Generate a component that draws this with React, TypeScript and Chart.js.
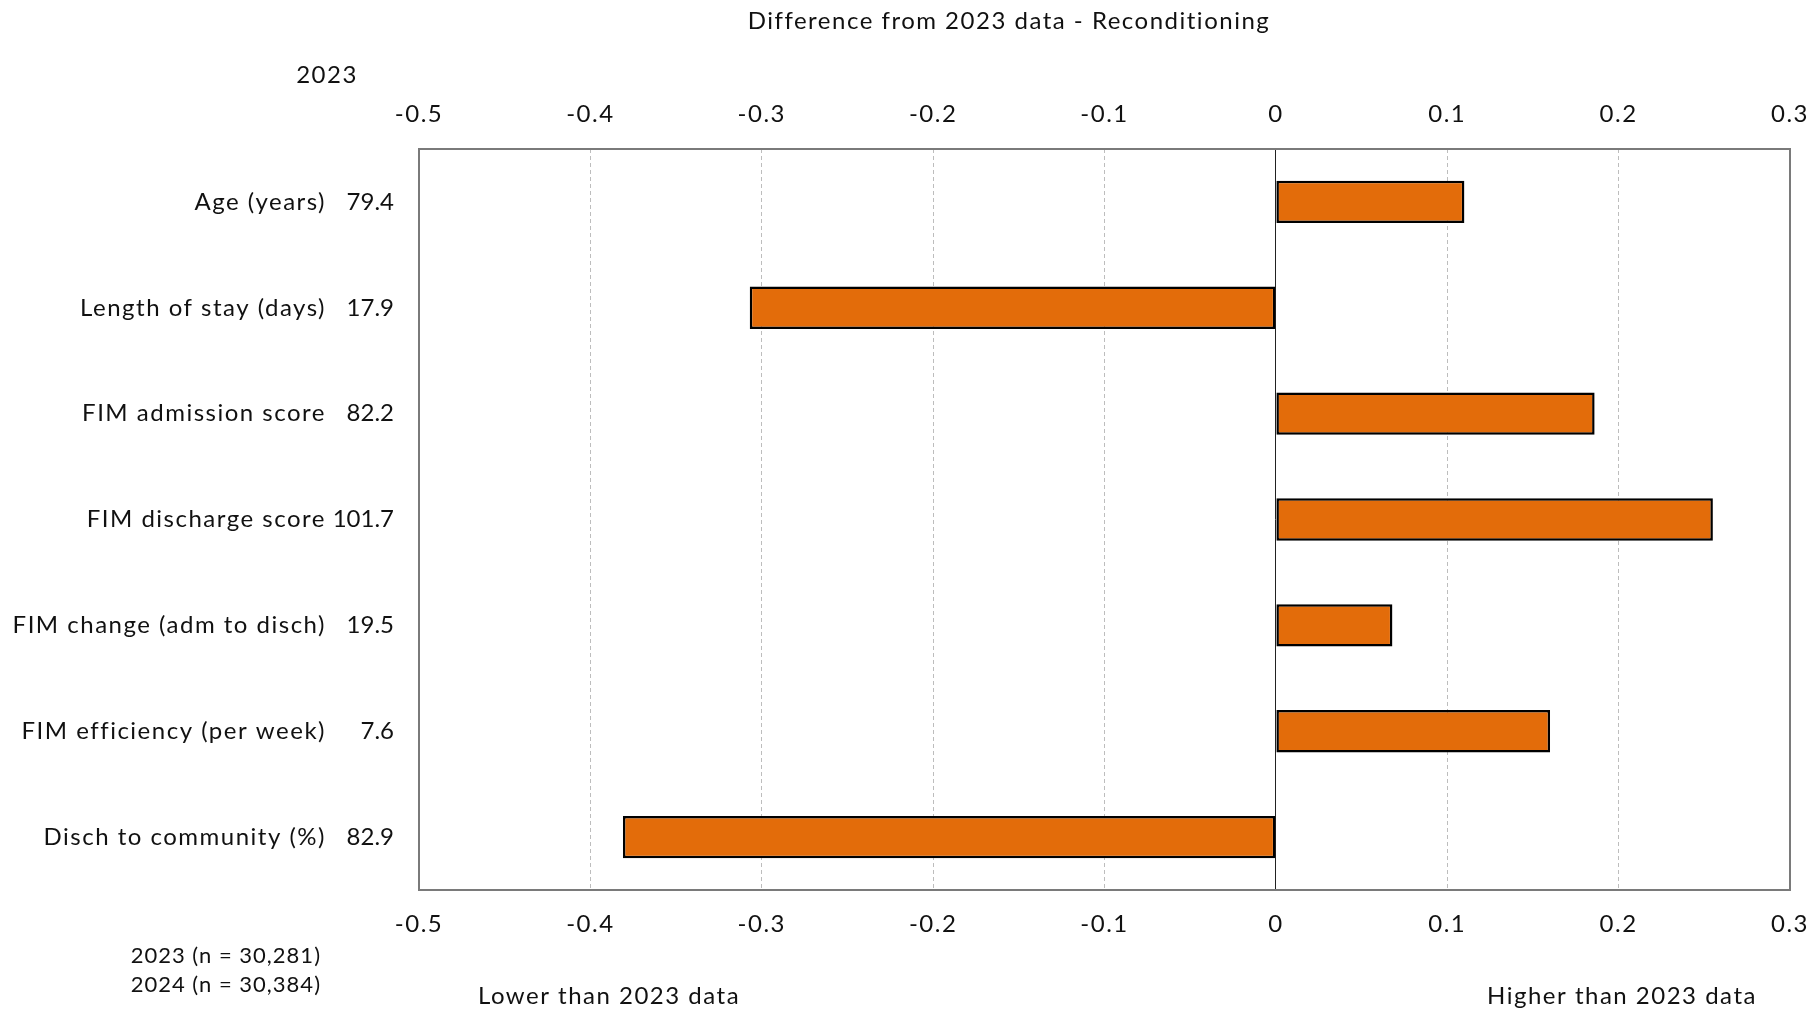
import React, { useEffect, useRef } from "react";
import { Chart, registerables } from "chart.js";

Chart.register(...registerables);

const categories = [
  "Age (years)",
  "Length of stay (days)",
  "FIM admission score",
  "FIM discharge score",
  "FIM change (adm to disch)",
  "FIM efficiency (per week)",
  "Disch to community (%)",
];
const values2023 = ["79.4", "17.9", "82.2", "101.7", "19.5", "7.6", "82.9"];
const differences = [0.110, -0.307, 0.186, 0.255, 0.068, 0.160, -0.381];
const xMin = -0.5;
const xMax = 0.3;
const titleText = "Difference from 2023 data - Reconditioning";
const yearHeader = "2023";
const notes = ["2023 (n = 30,281)", "2024 (n = 30,384)"];
const lowerText = "Lower than 2023 data";
const higherText = "Higher than 2023 data";

const FONT = "Lato, 'Open Sans', sans-serif";
const FONT_SIZE = 24;
const SPACING = "1.5px";
const BAR_COLOR = "#E36C0A";

function fmt(v: number) {
  return String(Math.round(v * 10) / 10);
}

const spacingPlugin = {
  id: "spacingPlugin",
  beforeLayout(chart: any) {
    chart.ctx.letterSpacing = SPACING;
  },
  beforeDraw(chart: any) {
    chart.ctx.letterSpacing = SPACING;
  },
};

const textPlugin = {
  id: "textPlugin",
  afterDraw(chart: any) {
    const ctx = chart.ctx;
    const area = chart.chartArea;
    const y = chart.scales.y;
    ctx.save();
    ctx.letterSpacing = SPACING;
    // plot border
    ctx.strokeStyle = "#7a7a7a";
    ctx.lineWidth = 2;
    ctx.strokeRect(area.left, area.top, area.right - area.left, area.bottom - area.top);

    ctx.fillStyle = "#111";
    ctx.font = `${FONT_SIZE}px ${FONT}`;
    ctx.textBaseline = "middle";

    ctx.textAlign = "center";
    ctx.fillText(titleText, 1009, 21);
    ctx.fillText(yearHeader, area.left - 92, 75);

    categories.forEach((c, i) => {
      const py = y.getPixelForValue(i);
      ctx.textAlign = "right";
      ctx.letterSpacing = SPACING;
      ctx.fillText(c, area.left - 93, py);
      ctx.letterSpacing = "0px";
      ctx.fillText(values2023[i], area.left - 25, py);
    });

    ctx.letterSpacing = "1px";
    ctx.font = `${FONT_SIZE - 2}px ${FONT}`;
    ctx.textAlign = "right";
    ctx.fillText(notes[0], area.left - 98, 956);
    ctx.fillText(notes[1], area.left - 98, 985);

    ctx.letterSpacing = SPACING;
    ctx.font = `${FONT_SIZE}px ${FONT}`;
    ctx.textAlign = "center";
    ctx.fillText(lowerText, 609, 996);
    ctx.fillText(higherText, 1622, 996);
    ctx.restore();
  },
};

export default function App() {
  const ref = useRef<HTMLCanvasElement | null>(null);
  useEffect(() => {
    document.body.style.margin = "0";
    const canvas = ref.current!;
    const tickFont = { family: FONT, size: FONT_SIZE };
    const chart = new Chart(canvas, {
      type: "bar",
      data: {
        labels: categories,
        datasets: [
          {
            data: differences,
            backgroundColor: BAR_COLOR,
            borderColor: "#000",
            borderWidth: 2.5,
            borderSkipped: false,
            barPercentage: 0.4,
            categoryPercentage: 1,
          },
        ],
      },
      options: {
        indexAxis: "y",
        animation: false,
        responsive: false,
        layout: { padding: { left: 419, right: 24, top: 0, bottom: 0 } },
        plugins: { legend: { display: false }, tooltip: { enabled: false }, title: { display: false } },
        scales: {
          y: { display: false },
          x: {
            position: "bottom",
            min: xMin,
            max: xMax,
            afterFit: (s: any) => {
              s.height = 122;
              s.paddingLeft = 0;
              s.paddingRight = 0;
            },
            ticks: { stepSize: 0.1, font: tickFont, color: "#111", padding: 20, callback: (v: any) => fmt(Number(v)) },
            grid: {
              drawTicks: false,
              lineWidth: 1,
              color: (c: any) => {
                const v = Math.round(c.tick.value * 10) / 10;
                if (v === 0) return "#222";
                if (v === xMin || v === xMax) return "rgba(0,0,0,0)";
                return "#bdbdbd";
              },
            },
            border: {
              display: false,
              dash: (c: any) => (Math.round((c.tick ? c.tick.value : 1) * 10) / 10 === 0 ? [] : [4, 3]),
            },
          },
          x2: {
            position: "top",
            type: "linear",
            axis: "x",
            min: xMin,
            max: xMax,
            afterFit: (s: any) => {
              s.height = 149;
              s.paddingLeft = 0;
              s.paddingRight = 0;
            },
            ticks: { stepSize: 0.1, font: tickFont, color: "#111", padding: 20, callback: (v: any) => fmt(Number(v)) },
            grid: { display: false, drawTicks: false },
            border: { display: false },
          },
        },
      } as any,
      plugins: [spacingPlugin, textPlugin],
    });
    return () => chart.destroy();
  }, []);
  return (
    <div style={{ width: 1814, height: 1012, background: "#fff" }}>
      <canvas ref={ref} width={1814} height={1012} style={{ display: "block" }} />
    </div>
  );
}
